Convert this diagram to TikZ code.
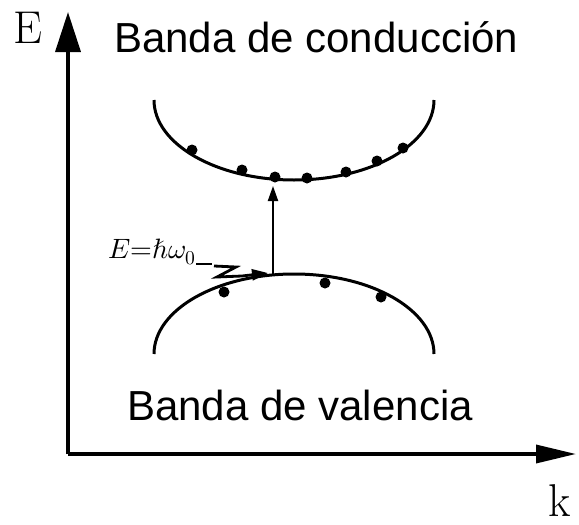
\documentclass[tikz,border=0pt]{standalone}
\usepackage{fontspec}
\usepackage{unicode-math}
\setmathfont{Latin Modern Math}
\setsansfont{Liberation Sans}
\usetikzlibrary{arrows.meta}
\begin{document}
\begin{tikzpicture}[x=1pt,y=-1pt,
  band/.style={line width=3pt},
  axis/.style={line width=3.5pt},
  dot/.style={circle,fill=black,inner sep=0pt,minimum size=11pt},
  bandlabel/.style={font=\fontsize{42}{48}\selectfont\sffamily,inner sep=0pt,anchor=base west},
  axlabel/.style={font=\fontsize{46}{50}\selectfont,inner sep=0pt,anchor=base west}]
\useasboundingbox (0,0) rectangle (579,525);
% axes
\coordinate (O) at (68,454);
\coordinate (Etip) at (68,12);
\coordinate (ktip) at (576,454);
\draw[axis,-{Triangle[length=40pt,width=25pt]}] (O) -- (Etip);
\draw[axis,-{Triangle[length=40pt,width=18pt]}] (O) -- (ktip);
\node[axlabel] (Elab) at (13,43) {E};
\node[axlabel] (klab) at (548,516) {k};
% labels
\node[bandlabel] (cond) at (114,52) {Banda de conducción};
\node[bandlabel] (val) at (127,420) {Banda de valencia};
% conduction band
\draw[band] (154,100) arc[start angle=180,end angle=0,x radius=140,y radius=80];
% valence band
\draw[band] (154,354) arc[start angle=180,end angle=360,x radius=140,y radius=80];
% electrons
\foreach \i/\p in {1/{192,150},2/{242,170},3/{275,177},4/{307,178},5/{346,172},6/{377,161},7/{403,148}}
  \node[dot] (e\i) at (\p) {};
% valence dots
\foreach \i/\p in {1/{224,292},2/{325,283},3/{381,297}}
  \node[dot] (h\i) at (\p) {};
% transition arrow
\coordinate (vb) at (273,276);
\coordinate (cb) at (273,186);
\draw[line width=2pt,-{Triangle[length=15pt,width=10pt]}] (vb) -- (cb);
% photon energy label
\node[font=\fontsize{28}{32}\selectfont,inner sep=0pt,anchor=base west] (hw) at (108,258) {$E{=}\hbar\omega_0$};
\coordinate (z1) at (212,264);
\coordinate (z2) at (236,267);
\coordinate (z3) at (217,277);
\coordinate (z4) at (242,276);
\coordinate (zt) at (268,273);
\draw[line width=2.4pt] (hw.east |- z1) -- (z1);
\draw[line width=2.8pt,-{Triangle[length=16pt,width=11pt]}] (214,266) -- (z2) -- (z3) -- (z4) -- (zt);
\end{tikzpicture}
\end{document}
